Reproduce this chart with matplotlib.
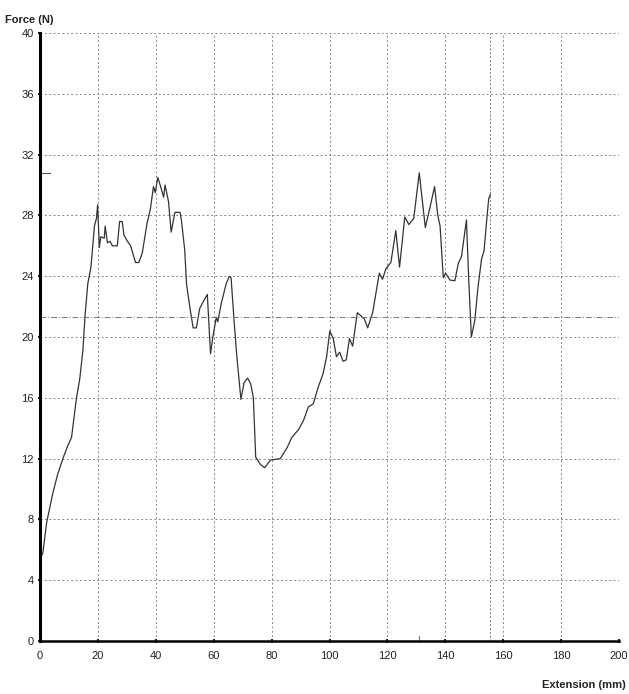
import matplotlib.pyplot as plt

# extension (mm) and force (N)
extension = [0.3, 1.0, 2.3, 4.4, 6.0, 7.9, 9.5, 10.9, 12.6, 13.7, 14.8, 15.6, 16.5, 17.6,
             18.8, 19.5, 19.9, 20.5, 21.0, 22.2, 22.5, 23.3, 24.2, 25.0, 26.7, 27.5,
             28.4, 29.0, 30.2, 31.3, 33.0, 34.1, 35.3, 37.0, 38.1, 39.2, 39.8, 40.7,
             41.5, 42.7, 43.2, 44.4, 45.3, 46.6, 48.4, 48.9, 50.0, 50.6, 51.8, 52.9,
             54.0, 55.2, 56.9, 57.8, 58.9, 59.7, 60.9, 61.4, 62.6, 64.3, 65.4, 66.0,
             67.1, 68.0, 69.4, 70.5, 71.7, 72.8, 73.7, 74.5, 76.2, 77.6, 79.6, 83.0,
             85.3, 87.0, 89.3, 91.0, 92.7, 94.4, 96.1, 97.8, 99.0, 100.1, 101.3,
             102.4, 103.5, 104.7, 105.8, 106.9, 108.0, 109.6, 112.0, 113.2, 114.9,
             117.2, 118.3, 119.5, 121.2, 122.9, 124.2, 126.0, 127.4, 129.1, 131.0,
             133.1, 134.8, 136.3, 137.4, 138.2, 139.3, 140.1, 141.6, 143.3, 144.5,
             145.6, 147.3, 148.1, 149.0, 150.2, 151.3, 152.5, 153.4, 154.4, 155.0,
             155.6]
force = [5.5, 5.8, 7.8, 9.7, 10.9, 12.0, 12.8, 13.4, 16.0, 17.2, 19.1, 21.5, 23.5, 24.6,
         27.3, 27.8, 28.7, 25.9, 26.6, 26.5, 27.3, 26.2, 26.3, 26.0, 26.0, 27.6,
         27.6, 26.7, 26.3, 26.0, 24.9, 24.9, 25.5, 27.5, 28.4, 29.9, 29.5, 30.5,
         30.0, 29.2, 30.0, 28.9, 26.9, 28.2, 28.2, 27.6, 25.7, 23.5, 21.9, 20.6,
         20.6, 21.9, 22.5, 22.8, 18.9, 20.0, 21.3, 21.0, 22.2, 23.5, 24.0, 23.9,
         20.9, 18.7, 15.9, 17.0, 17.3, 16.9, 16.0, 12.1, 11.6, 11.4, 11.9, 12.0,
         12.7, 13.4, 13.9, 14.5, 15.4, 15.6, 16.7, 17.6, 18.7, 20.4, 19.9,
         18.7, 19.0, 18.4, 18.5, 19.9, 19.4, 21.6, 21.2, 20.6, 21.6,
         24.2, 23.8, 24.5, 24.9, 27.0, 24.6, 27.9, 27.4, 27.8, 30.8,
         27.2, 28.6, 29.9, 28.0, 27.3, 23.9, 24.2, 23.75, 23.7, 24.85,
         25.3, 27.7, 23.75, 20.0, 21.1, 23.3, 25.1, 25.7, 27.9, 29.1,
         29.4]

cursor_x = 155.6
cursor_y = 21.3

xticks = [0, 20, 40, 60, 80, 100, 120, 140, 160, 180, 200]
yticks = [0, 4, 8, 12, 16, 20, 24, 28, 32, 36, 40]

plt.rcParams['font.family'] = ['Liberation Sans', 'DejaVu Sans']

fig = plt.figure(figsize=(6.29, 6.94), dpi=100)
ax = fig.add_axes([0.0636, 0.0764, 0.9205, 0.876])

ax.plot(extension, force, color='#333333', lw=0.9)

# peak markers on the axes
imax = force.index(max(force))
ax.plot([0, 3.4], [force[imax], force[imax]], color='#555555', lw=0.8, clip_on=False)
ax.plot([extension[imax], extension[imax]], [0, 0.35], color='#777777', lw=0.8)

# cursor lines
ax.axvline(cursor_x, color='#777777', lw=0.7, ls=(0, (2, 2)))
ax.axhline(cursor_y, color='#777777', lw=0.7, ls=(0, (6, 2, 1, 2)))

ax.set_xlim(0, 200)
ax.set_ylim(0, 40)
ax.set_xticks(xticks)
ax.set_yticks(yticks)
ax.grid(True, color='#888888', lw=0.7, ls=(0, (2, 2.5)))
ax.set_axisbelow(True)

for s in ['top', 'right']:
    ax.spines[s].set_visible(False)
ax.spines['left'].set_linewidth(2.2)
ax.spines['bottom'].set_linewidth(1.8)
ax.tick_params(axis='both', labelsize=8, colors='#222222', length=3, width=1.5,
               direction='inout')
ax.tick_params(axis='y', pad=3)
ax.tick_params(axis='x', pad=6)

fig.text(0.008, 0.967, 'Force (N)', fontsize=8, fontweight='bold', color='#222222')
fig.text(0.995, 0.008, 'Extension (mm)', fontsize=8, fontweight='bold',
         color='#222222', ha='right')

fig.savefig('out.png', dpi=100, facecolor='white')
